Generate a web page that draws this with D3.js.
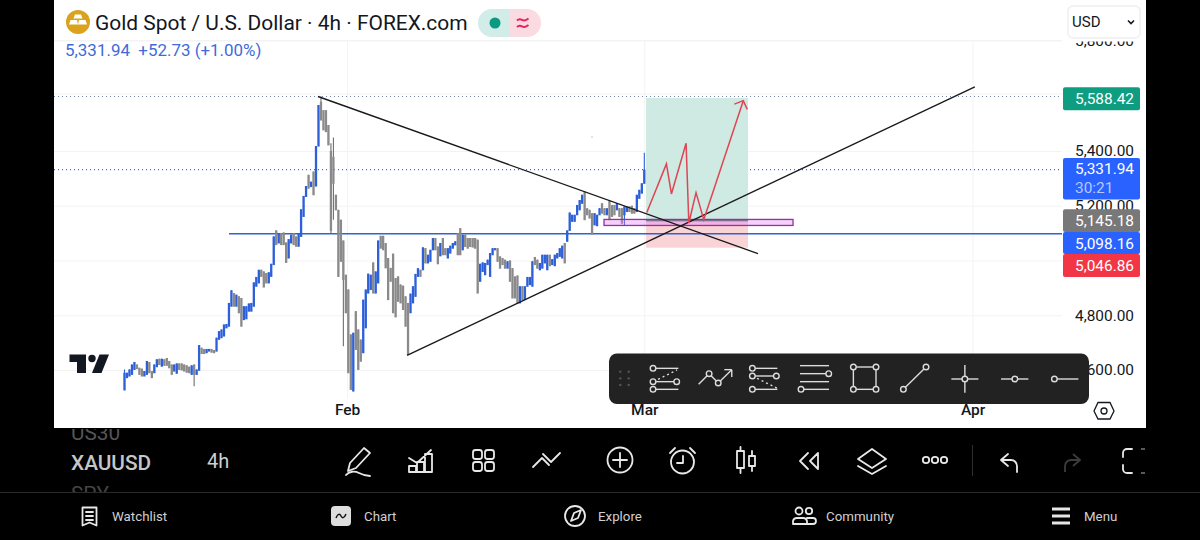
<!DOCTYPE html>
<html><head><meta charset="utf-8">
<script src="https://cdn.jsdelivr.net/npm/d3@7/dist/d3.min.js"></script>
<style>html,body{margin:0;padding:0;background:#000;overflow:hidden}svg{display:block;font-family:Roboto,sans-serif}</style>
</head><body><svg id="c" width="1200" height="540"></svg>
<script>
// Candle data (USD)
const highs=[4602,4590,4602,4620,4629,4620,4608,4605,4596,4633,4629,4596,4620,4639,4641,4641,4639,4644,4633,4620,4620,4624,4624,4624,4620,4617,4612,4617,4620,4602,4691,4681,4677,4677,4677,4677,4673,4718,4742,4748,4766,4768,4845,4891,4881,4875,4869,4863,4833,4833,4843,4845,4920,4940,4966,4966,4960,4954,4957,4988,5088,5110,5100,5100,5102,5066,5078,5094,5100,5088,5100,5187,5236,5272,5313,5288,5325,5417,5559,5588.42,5541,5541,5490,5427,5447,5240,5185,5149,5073,4948,4894,4730,4736,4815,4748,4711,4857,4894,4952,4948,4993,4960,5073,5090,5090,5064,5009,4973,5025,4936,4942,4912,4908,4869,4845,4879,4906,4951,4972,4966,5048,5045,5021,5039,5082,5082,5051,5064,5082,5045,5045,5054,5064,5070,5100,5118,5094,5094,5082,5082,5082,5082,5076,4988,4993,4991,5003,5027,5045,5045,5045,5015,5009,5003,4997,5000,4972,4942,4945,4906,4906,4906,4940,4940,4997,5013,5003,4991,5021,5021,5021,5021,5005,5021,5027,5045,5054,5064,5110,5175,5167,5167,5203,5221,5240,5252,5191,5185,5173,5173,5167,5191,5209,5191,5191,5219,5203,5203,5209,5191,5191,5197,5197,5197,5200,5191,5240,5258,5282,5394];
const lows=[4527,4572,4578,4584,4602,4605,4584,4578,4578,4584,4590,4572,4590,4612,4620,4614,4617,4617,4608,4584,4596,4588,4602,4600,4596,4592,4590,4584,4541,4584,4599,4660,4660,4663,4669,4665,4663,4669,4712,4718,4724,4754,4760,4833,4833,4833,4809,4760,4784,4787,4815,4815,4833,4906,4918,4942,4903,4918,4918,4942,4985,5058,5064,5058,5058,4993,5009,5064,5058,5052,5052,5088,5161,5234,5264,5270,5240,5272,5417,5507,5473,5467,5421,5100,5149,5185,4942,4997,4687,4809,4590,4529,4523,4675,4602,4632,4663,4754,4881,4894,4881,4881,4918,5045,5039,4973,4857,4924,4809,4794,4851,4845,4821,4760,4657,4809,4845,4869,4942,4942,4966,4991,4991,4997,5039,5039,4988,5017,5021,5021,5009,5027,5045,5057,5021,5021,5039,5051,5045,5051,5049,5045,4881,4924,4960,4948,4985,4942,5021,5039,4997,4972,4985,4972,4972,4924,4863,4863,4845,4845,4857,4857,4906,4912,4906,4985,4972,4966,4972,4991,4966,4981,4985,4981,5009,5015,5009,4991,5070,5110,5143,5143,5167,5185,5209,5149,5167,5155,5096,5130,5127,5167,5173,5167,5167,5149,5161,5167,5185,5161,5136,5130,5179,5179,5173,5173,5179,5227,5246,5282];
// one letter per candle: u = closed higher, d = closed lower
const directions=("uuuuudddUU"+"dduududddd"+"uudddddudu"+"uddUUddUUU"+"uuuududduu"+"uuuuudddUU"+"ududdduudd"+"uuuududuud"+"dddddddddd"+"dduddduuuu"+"duuddddddd"+"ddddduuuud"+"uduuuddudd"+"uuuuddUddd"+"dddUUUUUUU"+"dddduddddu"+"duuuuddUUU"+"uduuuuuduu"+"uuuuudddDU"+"uuddudddud"+"duuddduuuu").toLowerCase().split("");
// candles whose body is shorter than their high-low range: index, open, close
const shortBodies=[[0,4527,4590],[28,4620,4584],[79,5570,5507],[83,5400,5110],[84,5379,5282],[88,5073,4930],[201,5167,5197],[209,5282,5331.94]];
const lastPrice=5331.94;

const gridTicks=[4600,4800,5000,5200,5400,5600,5800];
const labelTicks=[4600,4800,5200,5400,5800];
const targetPrice=5588.42, entryPrice=5145.18, levelPrice=5098.16, stopPrice=5046.86;
const monthLabels=["Feb","Mar","Apr"], monthIndex=[89.5,209,341];

// drawings, in [bar index, price]
const fallingLine=[[77.8,5588.42],[254.7,5025]];
const risingLine=[[113.6,4653],[341.9,5625]];
const levelStart=42;
const positionRange=[209.7,250.7];
const zoneBox=[192.8,268.8,5150,5128];
const forecastPath=[[210,5175],[217.9,5353],[219.9,5243],[225.8,5427],[226.9,5137],[229.8,5248],[232.9,5149],[248.8,5574]];
const arrowHead=[[245.2,5562],[248.8,5574],[250.4,5544]];

const n=highs.length;
const svg=d3.select("#c");
const x=d3.scaleLinear().domain([0,209]).range([124.5,644.3]);
const y=d3.scaleLinear().domain([4600,5400,5588.42,5800]).range([370,151,96.5,40.5]);

// panel
svg.append("rect").attr("x",54).attr("y",0).attr("width",1092).attr("height",428).attr("fill","#fff");

// grid through axes
const gridY=svg.append("g").attr("transform","translate(1062,0)")
  .call(d3.axisLeft(y).tickValues(gridTicks).tickSize(1008).tickFormat(""));
gridY.select(".domain").remove();
gridY.selectAll("line").attr("stroke","#f3f3f4");
const xAxis=svg.append("g").attr("transform","translate(0,428)")
  .call(d3.axisBottom(x).tickValues(monthIndex).tickSize(0).tickFormat((d,i)=>monthLabels[i]));
xAxis.select(".domain").remove();
xAxis.selectAll("text").attr("y",-13).attr("dy",0).attr("fill","#131722").attr("font-family","Roboto").attr("font-size",15.5).attr("font-weight",500);
const gridX=svg.append("g").attr("transform","translate(0,41)")
  .call(d3.axisBottom(x).tickValues(monthIndex).tickSize(357).tickFormat(""));
gridX.select(".domain").remove();
gridX.selectAll("line").attr("stroke","#f3f3f4");

// price labels
const yLabels=svg.append("g").attr("transform","translate(1134,0)")
  .call(d3.axisRight(y).tickValues(labelTicks).tickSize(0).tickFormat(d3.format(",.2f")));
yLabels.select(".domain").remove();
yLabels.selectAll("text").attr("x",0).attr("text-anchor","end").attr("fill","#131722").attr("font-family","Roboto").attr("font-size",15.4);

// dotted levels
[[targetPrice,"#7686a8"],[lastPrice,"#3f68d8"]].forEach(([p,c])=>{
  svg.append("line").attr("x1",54).attr("x2",1062).attr("y1",y(p)).attr("y2",y(p))
    .attr("stroke",c).attr("stroke-width",1.1).attr("stroke-dasharray","1 3");
});

// long position tool
svg.append("rect").attr("x",x(positionRange[0])).attr("width",x(positionRange[1])-x(positionRange[0]))
  .attr("y",y(targetPrice)+1.5).attr("height",y(entryPrice)-y(targetPrice)-1.5).attr("fill","#cfe9e3");
svg.append("rect").attr("x",x(positionRange[0])).attr("width",x(positionRange[1])-x(positionRange[0]))
  .attr("y",y(entryPrice)).attr("height",y(stopPrice)-y(entryPrice)).attr("fill","#fad3d7");

// level line
svg.append("line").attr("x1",x(levelStart)).attr("x2",1062).attr("y1",y(levelPrice)).attr("y2",y(levelPrice))
  .attr("stroke","#2f62d6").attr("stroke-width",1.5);

// candles
const up="#2c5fd8", down="#8a8a8a";
const body=highs.map((h,i)=>directions[i]==="u"?[lows[i],h]:[h,lows[i]]);
shortBodies.forEach(([i,o,c])=>{body[i]=[o,c];});
const candle=svg.append("g").selectAll("g").data(d3.range(n)).join("g");
candle.append("line").attr("x1",i=>x(i)).attr("x2",i=>x(i)).attr("y1",i=>y(highs[i])).attr("y2",i=>y(lows[i]))
  .attr("stroke",i=>directions[i]==="u"?up:"#6e6e6e").attr("stroke-width",1.1);
candle.append("rect").attr("x",i=>x(i)-1.15).attr("width",2.3)
  .attr("y",i=>y(Math.max(body[i][0],body[i][1]))).attr("height",i=>Math.abs(y(body[i][0])-y(body[i][1]))+.5)
  .attr("fill",i=>directions[i]==="u"?up:down);

// purple zone
svg.append("rect").attr("x",x(zoneBox[0])).attr("width",x(zoneBox[1])-x(zoneBox[0]))
  .attr("y",y(zoneBox[2])).attr("height",y(zoneBox[3])-y(zoneBox[2]))
  .attr("fill","rgba(228,120,245,.35)").attr("stroke","#93329e").attr("stroke-width",1.3);
svg.append("line").attr("x1",x(positionRange[0])).attr("x2",x(positionRange[1])).attr("y1",y(entryPrice)).attr("y2",y(entryPrice))
  .attr("stroke","#5d5d78").attr("stroke-width",1);

// trend lines and forecast
const ln=d3.line().x(d=>x(d[0])).y(d=>y(d[1]));
[fallingLine,risingLine].forEach(l=>svg.append("path").attr("d",ln(l)).attr("fill","none").attr("stroke","#1a1a1a").attr("stroke-width",1.4));
[forecastPath,arrowHead].forEach(l=>svg.append("path").attr("d",ln(l)).attr("fill","none").attr("stroke","#dd4654").attr("stroke-width",1.5));
svg.append("circle").attr("cx",592).attr("cy",137).attr("r",.6).attr("fill","#777");

// header cover over the top price label
svg.append("rect").attr("x",1063).attr("y",0).attr("width",83).attr("height",41.5).attr("fill","#fff");
svg.append("line").attr("x1",54).attr("x2",1062).attr("y1",40.5).attr("y2",40.5).attr("stroke","#f3f3f4");

// header
svg.append("circle").attr("cx",78).attr("cy",22).attr("r",12).attr("fill","#dba21e");
svg.append("path").attr("d","M75 14.5h6l1.5 4h-9zM70.5 20h6.5l1 4.5h-9zM79 20h6.5l1.5 4.5h-9z").attr("fill","#fff");
svg.append("text").attr("x",95).attr("y",29.5).attr("font-size",20.94).attr("fill","#131722").text("Gold Spot / U.S. Dollar · 4h · FOREX.com");
svg.append("text").attr("x",65).attr("y",56).attr("font-size",16.95).attr("fill","#3f6bd8").attr("xml:space","preserve").text("5,331.94  +52.73 (+1.00%)");
svg.append("path").attr("d","M492 9H510V37H492a14 14 0 0 1 0-28Z").attr("fill","#d2ece7");
svg.append("path").attr("d","M510 9H527a14 14 0 0 1 0 28H510Z").attr("fill","#fbdbe2");
svg.append("circle").attr("cx",495).attr("cy",23).attr("r",5.5).attr("fill","#0a9981");
svg.append("path").attr("d","M517 20.5c3-3 5 0 7 0s3-1 4.500-2M517 27c3-3 5 0 7 0s3-1 4.500-2").attr("fill","none").attr("stroke","#e91e63").attr("stroke-width",2);
svg.append("rect").attr("x",1068).attr("y",6).attr("width",72).attr("height",32).attr("rx",5).attr("fill","#fff").attr("stroke","#efefef").attr("stroke-width",1.5);
svg.append("text").attr("x",1072).attr("y",27).attr("font-size",15).attr("fill","#131722").text("USD");
svg.append("path").attr("d","M1128 20.500l3 3 3-3").attr("fill","none").attr("stroke","#131722").attr("stroke-width",1.6);

// TradingView mark
svg.append("path").attr("d","M69.500 354.500H86V373H77V362H69.500Z").attr("fill","#131722");
svg.append("circle").attr("cx",92).attr("cy",358.500).attr("r",3.700).attr("fill","#131722");
svg.append("path").attr("d","M99.500 354.500H109L101.500 373H92Z").attr("fill","#131722");

// price pills
const pills=[[87.3,23,"#0f9d82",targetPrice],[209.3,22.7,"#787878",entryPrice],[232,22,"#2962ff",levelPrice],[254,23,"#f23645",stopPrice]];
pills.forEach(([t,h,c,v])=>{
  svg.append("rect").attr("x",1063).attr("y",t).attr("width",77).attr("height",h).attr("rx",2).attr("fill",c);
  svg.append("text").attr("x",1134).attr("y",t+h/2+5.5).attr("text-anchor","end").attr("font-size",15.4).attr("fill","#fff").text(d3.format(",.2f")(v));
});
svg.append("rect").attr("x",1063).attr("y",158).attr("width",77).attr("height",41.500).attr("rx",2).attr("fill","#2962ff");
svg.append("text").attr("x",1134).attr("y",174).attr("text-anchor","end").attr("font-size",15.4).attr("fill","#fff").text(d3.format(",.2f")(lastPrice));
svg.append("text").attr("x",1075).attr("y",192.500).attr("font-size",15.4).attr("fill","#b5c8ff").text("30:21");

// settings hexagon
svg.append("path").attr("d","M1098 402.500H1110L1114 411 1110 419H1098L1094 411Z").attr("fill","none").attr("stroke","#131722").attr("stroke-width",1.3);
svg.append("circle").attr("cx",1104).attr("cy",411).attr("r",3).attr("fill","none").attr("stroke","#131722").attr("stroke-width",1.3);

// floating toolbar
svg.append("rect").attr("x",609).attr("y",353.500).attr("width",480).attr("height",50.500).attr("rx",8).attr("fill","#222");
const T=(zx,zy)=>[600+zx/2.96,345+zy/3];
const tb=svg.append("g").attr("fill","none").attr("stroke","#dcdcdc").attr("stroke-width",1.4);
const seg=(a,b,c,d,extra)=>{const p=T(a,b),q=T(c,d);const l=tb.append("line").attr("x1",p[0]).attr("y1",p[1]).attr("x2",q[0]).attr("y2",q[1]);if(extra)l.attr("stroke-dasharray",extra);};
const dot=(a,b)=>{const p=T(a,b);tb.append("circle").attr("cx",p[0]).attr("cy",p[1]).attr("r",2.8).attr("fill","#222");};
[[60,80],[85,80],[60,100],[85,100],[60,120],[85,120]].forEach(([a,b])=>{const p=T(a,b);svg.append("circle").attr("cx",p[0]).attr("cy",p[1]).attr("r",1.2).attr("fill","#555");});
seg(157,70,232,70);seg(172,103,228,75,"2 3");seg(157,110,227,110);seg(157,133,232,133);[[157,70],[157,110],[227,110],[157,133]].forEach(p=>dot(...p));
seg(292,118,323,86);seg(323,86,350,114);seg(350,114,390,74);seg(368,74,390,74);seg(390,74,390,96);[[323,86],[350,114]].forEach(p=>dot(...p));
seg(451,70,525,70);seg(451,93,522,93);seg(465,100,525,130,"2 3");seg(451,133,525,133);[[451,70],[451,93],[522,93],[451,133]].forEach(p=>dot(...p));
seg(592,62,678,62);seg(592,86,678,86);seg(592,110,678,110);seg(595,133,678,133);[[677,86],[595,133]].forEach(p=>dot(...p));
seg(750,66,817,66);seg(817,66,817,133);seg(817,133,750,133);seg(750,133,750,66);[[750,66],[817,66],[750,133],[817,133]].forEach(p=>dot(...p));
seg(898,133,965,66);[[898,133],[965,66]].forEach(p=>dot(...p));
seg(1040,102,1120,102);seg(1080,60,1080,143);dot(1080,102);
seg(1187,102,1268,102);dot(1228,102);
seg(1345,102,1416,102);dot(1345,102);

// lower app chrome
const label=(t,x0,y0,fs,c)=>svg.append("text").attr("x",x0).attr("y",y0).attr("font-size",fs).attr("fill",c).text(t);
svg.append("defs").append("clipPath").attr("id","strip").append("rect").attr("x",54).attr("y",429).attr("width",400).attr("height",63);
const strip=svg.append("g").attr("clip-path","url(#strip)");
strip.append("text").attr("x",71).attr("y",440).attr("font-size",20.8).attr("fill","#555").text("US30");
strip.append("text").attr("x",71).attr("y",470).attr("font-size",20.8).attr("font-weight",500).attr("fill","#c6c6c6").text("XAUUSD");
strip.append("text").attr("x",71).attr("y",500.500).attr("font-size",20.8).attr("fill","#444").text("SPY");
label("4h",207,467.5,20,"#cfcfcf");
svg.append("line").attr("x1",0).attr("x2",1200).attr("y1",492.500).attr("y2",492.500).attr("stroke","#2a2a2a");
const ic=svg.append("g").attr("fill","none").attr("stroke","#e8e8e8").attr("stroke-width",1.8).attr("stroke-linecap","round").attr("stroke-linejoin","round");
const P=d=>ic.append("path").attr("d",d);
P("M364 448l6 5-14 15-8 3 2-8zM346 475c3-4 9-4 13-2s8 3 11 3");
P("M409 458l8 5 14-13M409 472v-6h7v6zM417 472v-10h7v10zM425 472v-18h7v18zM409 472h23");
ic.selectAll(null).data([[473,450],[485,450],[473,462],[485,462]]).join("rect").attr("x",d=>d[0]).attr("y",d=>d[1]).attr("width",9).attr("height",9).attr("rx",2.500);
P("M533 467l9-9 7 7M543 454l8 8 9-9");
ic.append("circle").attr("cx",620).attr("cy",460).attr("r",12.500);P("M613 460h14M620 453v14");
ic.append("circle").attr("cx",682.500).attr("cy",462).attr("r",11.500);P("M683 456v7h-6M670 453l5-5M695 453l-5-5");
P("M737 451h7v17h-7zM740.500 447v4M740.500 468v5M749 456h6v10h-6zM752 451v5M752 466v5");
P("M808 453l-8 8 8 8M818 453l-8 8 8 8z");
P("M872 449l14 10-14 9-14-9zM858 466l14 8 14-8");
[926,935,944].forEach(c=>ic.append("circle").attr("cx",c).attr("cy",460).attr("r",3.200));
svg.append("line").attr("x1",972.500).attr("x2",972.500).attr("y1",445).attr("y2",476).attr("stroke","#2e2e2e");
P("M1008 454l-7 6 7 6M1001 460h10a6 6 0 0 1 6 6v6");
svg.append("path").attr("d","M1073 454l7 6-7 6M1080 460h-9a6 6 0 0 0-6 6v6").attr("fill","none").attr("stroke","#3c3c3c").attr("stroke-width",1.800);
P("M1132 449h-5a4 4 0 0 0-4 4v4M1123 465v4a4 4 0 0 0 4 4h5");
svg.append("path").attr("d","M1141 449h4M1141 473h4").attr("stroke","#777").attr("stroke-width",1.500);
// navigation bar
P("M82.500 507.500h14v18l-7-3-7 3zM86 512h7M86 516h7M86 520h7");
svg.append("rect").attr("x",331).attr("y",506).attr("width",20).attr("height",20).attr("rx",4).attr("fill","#dedede");
svg.append("path").attr("d","M336 518c2-5 4-4 5-2s3 3 5-2").attr("fill","none").attr("stroke","#111").attr("stroke-width",1.500);
ic.append("circle").attr("cx",575).attr("cy",516).attr("r",10);P("M581 510l-3 8-7 3 3-8z");
ic.append("circle").attr("cx",799).attr("cy",511).attr("r",3.500);ic.append("circle").attr("cx",809).attr("cy",511).attr("r",3.200);
P("M793 524v-3a4 4 0 0 1 4-3h6a4 4 0 0 1 4 3v3zM807 518h6a2.500 2.500 0 0 1 0 6h-6");
svg.append("path").attr("d","M1052 509h18M1052 516h18M1052 523h18").attr("stroke","#e6e6e6").attr("stroke-width",2.800);
label("Watchlist",112,521,13.3,"#d0d0d0");
label("Chart",364,521,13.3,"#d0d0d0");
label("Explore",598,521,13.3,"#d0d0d0");
label("Community",826,521,13.3,"#d0d0d0");
label("Menu",1084,521,13.3,"#d0d0d0");
</script>
</body></html>
